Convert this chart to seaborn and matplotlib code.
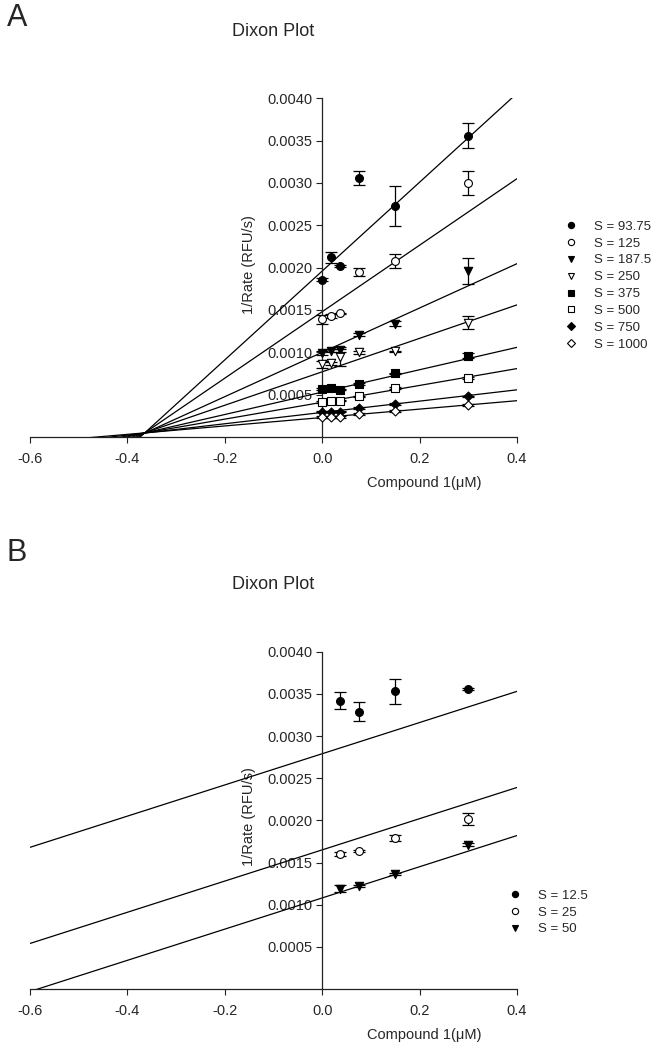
import numpy as np
import pandas as pd
import matplotlib
matplotlib.use("Agg")
import matplotlib.pyplot as plt
from matplotlib.lines import Line2D
import seaborn as sns

sns.set_style("white")
plt.rcParams['font.family'] = ['Liberation Sans', 'DejaVu Sans']
plt.rcParams['axes.unicode_minus'] = False

# ---------------- data ----------------
conc_A = [0.0, 0.01875, 0.0375, 0.075, 0.15, 0.3]
labels_A = ["S = 93.75", "S = 125", "S = 187.5", "S = 250",
            "S = 375", "S = 500", "S = 750", "S = 1000"]
rate_A = [
    [0.00186, 0.00212, 0.00202, 0.00306, 0.00273, 0.00356],
    [0.00139, 0.00143, 0.00146, 0.00195, 0.00208, 0.00300],
    [0.00099, 0.00102, 0.00103, 0.00121, 0.00134, 0.00196],
    [0.00086, 0.00087, 0.00094, 0.00100, 0.00101, 0.00135],
    [0.00057, 0.00058, 0.00056, 0.00063, 0.00075, 0.00096],
    [0.00041, 0.00042, 0.00043, 0.00048, 0.00058, 0.00070],
    [0.00030, 0.00030, 0.00030, 0.00034, 0.00039, 0.00048],
    [0.00024, 0.00024, 0.00024, 0.00027, 0.00031, 0.00038],
]
err_A = [
    [0.00002, 0.00007, 0.00001, 0.00008, 0.00024, 0.00015],
    [0.00005, 0.00002, 0.00001, 0.00005, 0.00008, 0.00014],
    [0.00002, 0.00002, 0.00003, 0.00002, 0.00003, 0.00015],
    [0.00004, 0.00002, 0.00010, 0.00002, 0.00001, 0.00008],
    [0.00001, 0.00001, 0.00001, 0.00001, 0.00001, 0.00003],
    [0.00001, 0.00001, 0.00001, 0.00001, 0.00001, 0.00001],
    [0.00001, 0.00001, 0.00001, 0.00001, 0.00001, 0.00001],
    [0.00001, 0.00001, 0.00001, 0.00001, 0.00001, 0.00001],
]
fit_intercept_A = [0.00196, 0.00148, 0.00100, 0.00077, 0.00053, 0.00041, 0.00029, 0.00023]
fit_slope_A = [0.005246, 0.003927, 0.002618, 0.001976, 0.001322, 0.000995, 0.000668, 0.000497]

conc_B = [0.0375, 0.075, 0.15, 0.3]
labels_B = ["S = 12.5", "S = 25", "S = 50"]
rate_B = [
    [0.00342, 0.00329, 0.00353, 0.00356],
    [0.00160, 0.00164, 0.00179, 0.00202],
    [0.00119, 0.00122, 0.00136, 0.00171],
]
err_B = [
    [0.00010, 0.00011, 0.00015, 0.00001],
    [0.00002, 0.00001, 0.00004, 0.00007],
    [0.00004, 0.00001, 0.00001, 0.00002],
]
fit_intercept_B = [0.00279, 0.00165, 0.00108]
fit_slope_B = [0.00185, 0.00185, 0.00185]

x_ticks = [-0.6, -0.4, -0.2, 0.0, 0.2, 0.4]
x_ticklabels = ["-0.6", "-0.4", "-0.2", "0.0", "0.2", "0.4"]
y_ticks = [0.0005, 0.0010, 0.0015, 0.0020, 0.0025, 0.0030, 0.0035, 0.0040]
y_ticklabels = ["0.0005", "0.0010", "0.0015", "0.0020", "0.0025", "0.0030", "0.0035", "0.0040"]

# ---------------- styles ----------------
markers_A = ['o', 'o', 'v', 'v', 's', 's', 'D', 'D']
filled_A = [True, False, True, False, True, False, True, False]
markers_B = ['o', 'o', 'v']
filled_B = [True, False, True]
msize = {'o': 32, 'v': 36, 's': 26, 'D': 21}

W, H = 657, 1050
fig = plt.figure(figsize=(W / 100, H / 100), dpi=100)
axA = fig.add_axes([30 / W, 1 - 437 / H, 487 / W, (437 - 98.3) / H])
axB = fig.add_axes([30 / W, 1 - 989 / H, 487 / W, (989 - 651.7) / H])


def draw_panel(ax, conc, labels, rates, errs, b_list, m_list, markers, filled):
    xline = np.array([-0.6, 0.4])
    for b, m in zip(b_list, m_list):
        sns.lineplot(x=xline, y=b + m * xline, color='black', linewidth=0.9, ax=ax)
    for lab, r, e, mk, f in zip(labels, rates, errs, markers, filled):
        ax.errorbar(conc, r, yerr=e, fmt='none', ecolor='black',
                    elinewidth=0.9, capsize=4, capthick=0.9, zorder=3)
        df = pd.DataFrame({'conc': conc, 'rate': r})
        sns.scatterplot(data=df, x='conc', y='rate', marker=mk, s=msize[mk],
                        facecolor='black' if f else 'white', edgecolor='black',
                        linewidth=0.8, zorder=4, ax=ax)
    ax.set_xlim(-0.6, 0.4)
    ax.set_ylim(0, 0.0040)
    ax.spines['left'].set_position(('data', 0))
    ax.spines['right'].set_visible(False)
    ax.spines['top'].set_visible(False)
    for sp in ('left', 'bottom'):
        ax.spines[sp].set_color('#222222')
        ax.spines[sp].set_linewidth(0.9)
    ax.set_xticks(x_ticks)
    ax.set_xticklabels(x_ticklabels)
    ax.set_yticks(y_ticks)
    ax.set_yticklabels(y_ticklabels)
    ax.tick_params(axis='both', direction='out', length=4, width=0.8,
                   color='#222222', labelsize=10.5, bottom=True, left=True)
    ax.tick_params(axis='x', pad=7)
    ax.tick_params(axis='y', pad=3)
    ax.set_xlabel("Compound 1(\u03bcM)", fontsize=10.5)
    ax.xaxis.label.set_verticalalignment('center')
    ax.xaxis.set_label_coords(0.81, -0.135)
    ax.set_ylabel("1/Rate (RFU/s)", fontsize=10.5)
    ax.yaxis.label.set_verticalalignment('center')
    ax.yaxis.set_label_coords(0.45, 0.51)
    ax.set_title("Dixon Plot", fontsize=13, y=1.174, va='center')
    if ax.get_legend() is not None:
        ax.get_legend().remove()


draw_panel(axA, conc_A, labels_A, rate_A, err_A, fit_intercept_A, fit_slope_A,
           markers_A, filled_A)
draw_panel(axB, conc_B, labels_B, rate_B, err_B, fit_intercept_B, fit_slope_B,
           markers_B, filled_B)


def make_handles(markers, filled):
    hs = []
    for mk, f in zip(markers, filled):
        hs.append(Line2D([], [], marker=mk, linestyle='none', color='black',
                         markerfacecolor='black' if f else 'white',
                         markeredgecolor='black', markeredgewidth=0.8,
                         markersize=4.5 if mk != 'D' else 3.8))
    return hs


leg_kw = dict(frameon=False, fontsize=9.5, handlelength=1.0, handletextpad=1.25,
              labelspacing=0.35, borderpad=0, borderaxespad=0, loc='upper left')
fig.legend(make_handles(markers_A, filled_A), labels_A,
           bbox_to_anchor=(564.4 / W, 1 - 220.5 / H), **leg_kw)
fig.legend(make_handles(markers_B, filled_B), labels_B,
           bbox_to_anchor=(508.4 / W, 1 - 889.5 / H), **leg_kw)

fig.text(17 / W, 1 - 18.5 / H, "A", fontsize=22, ha='center', va='center')
fig.text(17 / W, 1 - 553 / H, "B", fontsize=22, ha='center', va='center')

fig.savefig("out.png", dpi=100)
